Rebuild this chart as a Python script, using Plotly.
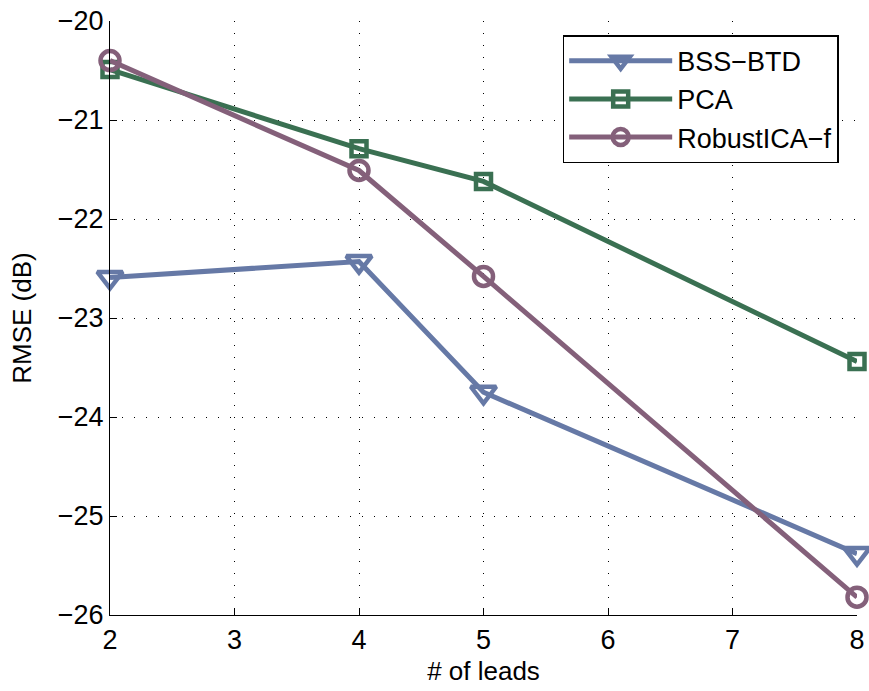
import plotly.graph_objects as go

leads = [2, 4, 5, 8]
bss_btd = [-22.59, -22.43, -23.75, -25.38]
pca = [-20.49, -21.29, -21.62, -23.44]
robustica = [-20.40, -21.51, -22.58, -25.82]
x_ticks = [2, 3, 4, 5, 6, 7, 8]
y_ticks = [-26, -25, -24, -23, -22, -21, -20]

series = [
    ("BSS\u2212BTD", bss_btd, "rgb(102,121,166)", "triangle-down-open", 22),
    ("PCA", pca, "rgb(58,112,82)", "square-open", 15),
    ("RobustICA\u2212f", robustica, "rgb(132,96,122)", "circle-open", 19),
]

fig = go.Figure()
for name, ys, color, sym, size in series:
    fig.add_trace(go.Scatter(
        x=leads, y=ys, name=name, mode="lines+markers",
        line=dict(color=color, width=5),
        marker=dict(symbol=sym, size=size, color=color, line=dict(width=4.5, color=color)),
        cliponaxis=False,
    ))

axis_common = dict(
    showgrid=True, gridcolor="black", griddash="1px,11px", gridwidth=1,
    zeroline=False, showline=True, linecolor="black", linewidth=1.3,
    ticks="inside", ticklen=7, tickcolor="black",
    tickfont=dict(family="Liberation Sans, Arial", size=27, color="black"),
    mirror=False, automargin=False,
)

fig.update_layout(
    width=869, height=691,
    margin=dict(l=110, r=12, t=21, b=76, autoexpand=False),
    paper_bgcolor="white", plot_bgcolor="white",
    font=dict(family="Liberation Sans, Arial", size=27, color="black"),
    xaxis=dict(range=[2, 8], tickvals=x_ticks, ticktext=[str(v) for v in x_ticks],
               title=dict(text="# of leads", standoff=8, font=dict(size=26)), **axis_common),
    yaxis=dict(range=[-26, -20], tickvals=y_ticks,
               ticktext=["\u2212" + str(abs(v)) for v in y_ticks],
               title=dict(text="RMSE (dB)", standoff=18, font=dict(size=26)), **axis_common),
    legend=dict(x=0.606, y=0.976, xanchor="left", yanchor="top",
                bgcolor="white", bordercolor="black", borderwidth=1.5,
                font=dict(size=27), tracegroupgap=0, itemwidth=103),
    showlegend=True,
)

fig.write_html("out.html")
